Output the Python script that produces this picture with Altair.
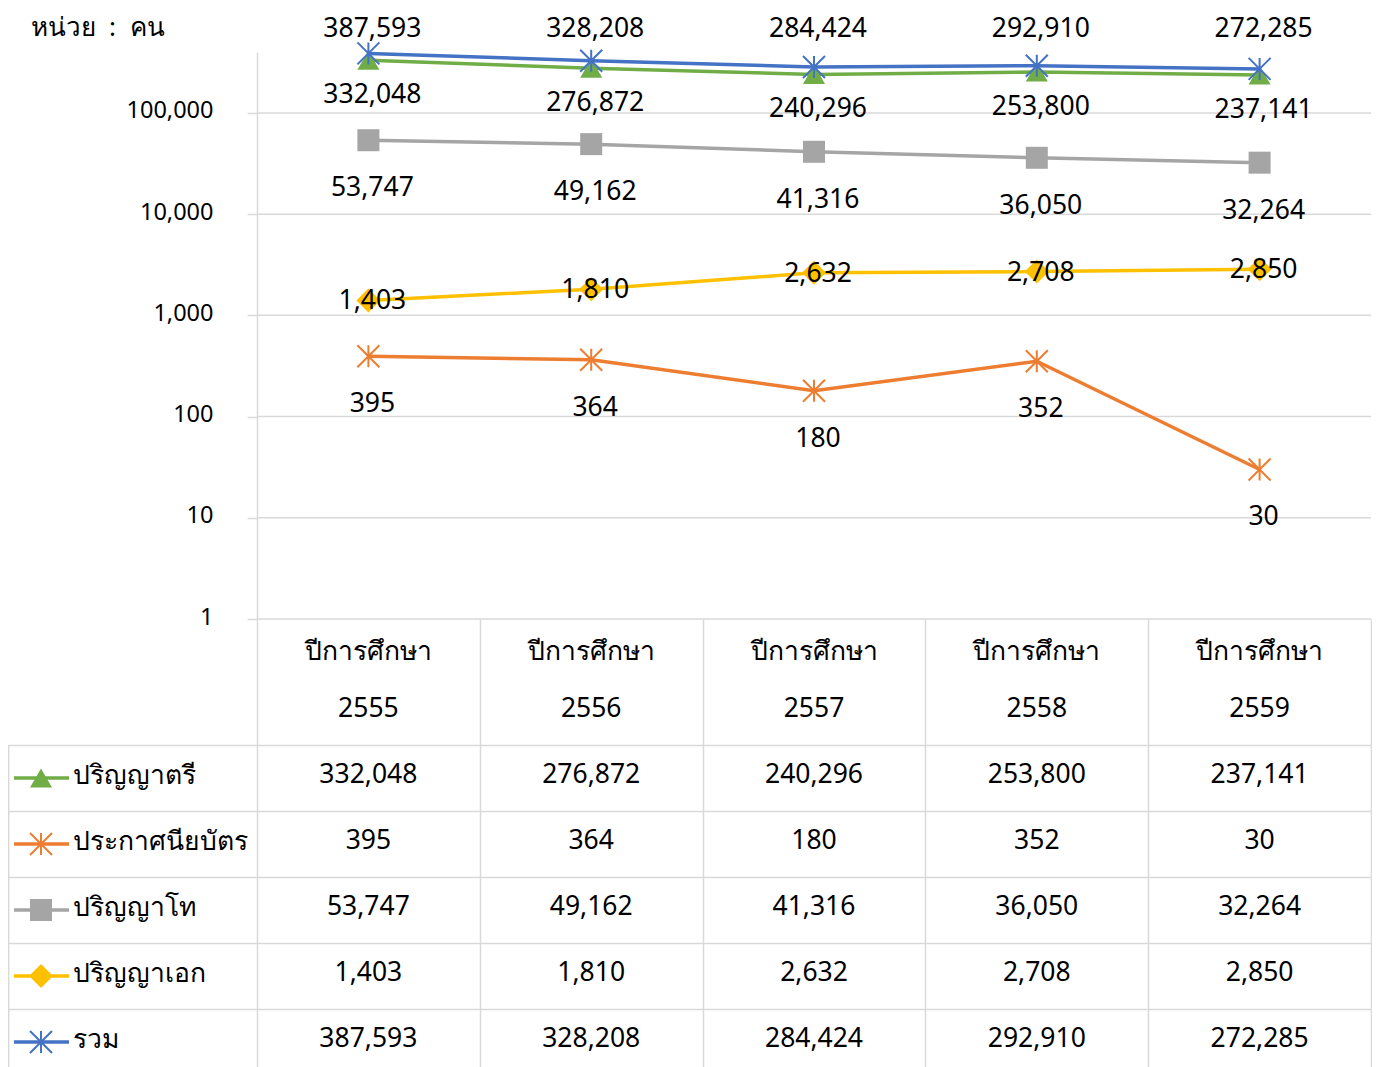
import altair as alt
import pandas as pd

# ---------------- data ----------------
years = [2555, 2556, 2557, 2558, 2559]
year_prefix = "ปีการศึกษา"
series_names = ["ปริญญาตรี", "ประกาศนียบัตร", "ปริญญาโท", "ปริญญาเอก", "รวม"]
bachelor = [332048, 276872, 240296, 253800, 237141]
certificate = [395, 364, 180, 352, 30]
master = [53747, 49162, 41316, 36050, 32264]
doctor = [1403, 1810, 2632, 2708, 2850]
total = [387593, 328208, 284424, 292910, 272285]
y_tick_values = [1, 10, 100, 1000, 10000, 100000]
unit_label = "หน่วย\u00a0\u00a0:\u00a0\u00a0คน"

series_values = [bachelor, certificate, master, doctor, total]

# ---------------- styles / layout ----------------
FONT = "Noto Sans"
COL_W = 222.8
LEG_W = 249
TOP_H = 567
Y_MAX = 400000
HEAD_H = 126
LINE_H = 57
ROW_H = 66
PLOT_W = round(5 * COL_W + LEG_W)
GRID = "#D9D9D9"
TXT = "#000000"
FS = 26.5
AXIS_FS = 23.5
ASTERISK = "M0,-1L0,1M-1,-1L1,1M-1,1L1,-1"

# dy: label offset from the marker; "top": label pinned above the plot area
styles = {
    "ปริญญาตรี": dict(color="#70AD47", shape="triangle-up", size=484, filled=True, sw=0, dy=35, top=False),
    "ประกาศนียบัตร": dict(color="#ED7D31", shape=ASTERISK, size=484, filled=False, sw=2, dy=48, top=False),
    "ปริญญาโท": dict(color="#A5A5A5", shape="square", size=484, filled=True, sw=0, dy=48, top=False),
    "ปริญญาเอก": dict(color="#FFC000", shape="diamond", size=576, filled=True, sw=0, dy=1, top=False),
    "รวม": dict(color="#4472C4", shape=ASTERISK, size=484, filled=False, sw=2, dy=-23, top=True),
}

rows = []
for name, vals in zip(series_names, series_values):
    for yr, v in zip(years, vals):
        rows.append({"series": name, "year": yr, "value": v})
df = pd.DataFrame(rows)

x_min = years[0] - 0.5 - LEG_W / COL_W
x_max = years[-1] + 0.5
col_edges = [yr - 0.5 for yr in years] + [years[-1] + 0.5]
x_scale = alt.Scale(domain=[x_min, x_max], nice=False, zero=False)

# ---------------- top: log line chart ----------------
y_axis = alt.Axis(
    values=y_tick_values, format=",", grid=False, offset=-LEG_W,
    tickSize=10, tickColor=GRID, tickWidth=1.5,
    domainColor=GRID, domainWidth=1.5,
    labelPadding=34, labelOffset=-2, labelFont=FONT, labelFontSize=AXIS_FS, labelColor=TXT,
    title=unit_label, titleAngle=0, titleX=-227, titleY=-25,
    titleAlign="left", titleBaseline="middle", titleFont=FONT,
    titleFontSize=26, titleFontWeight="normal", titleColor=TXT,
)
y_scale = alt.Scale(type="log", domain=[1, Y_MAX], nice=False)
y_enc = alt.Y("value:Q", scale=y_scale, axis=y_axis)


def xq(field):
    return alt.X(field, scale=x_scale, axis=None)


grid_df = pd.DataFrame({"value": y_tick_values})
grid_df["xa"] = col_edges[0]
grid_df["xb"] = col_edges[-1]
layers = [
    alt.Chart(grid_df).mark_rule(color=GRID, strokeWidth=1.5).encode(
        x=xq("xa:Q"), x2="xb:Q", y=y_enc
    )
]
for name in series_names:
    st = styles[name]
    base = alt.Chart(df).transform_filter(alt.datum.series == name)
    layers.append(base.mark_line(color=st["color"], strokeWidth=3.5).encode(x=xq("year:Q"), y=y_enc))
    layers.append(
        base.mark_point(shape=st["shape"], size=st["size"], filled=st["filled"],
                        color=st["color"], strokeWidth=st["sw"], opacity=1)
        .encode(x=xq("year:Q"), y=y_enc)
    )
for name in series_names:
    st = styles[name]
    base = alt.Chart(df).transform_filter(alt.datum.series == name)
    y_lab = alt.datum(Y_MAX, type="quantitative") if st["top"] else y_enc
    layers.append(
        base.mark_text(font=FONT, fontSize=FS, color=TXT, dy=st["dy"], dx=4, baseline="middle")
        .encode(x=xq("year:Q"), y=y_lab, text=alt.Text("value:Q", format=","))
    )
top = alt.layer(*layers).properties(width=PLOT_W, height=TOP_H)

# ---------------- header row ----------------
head_df = pd.DataFrame({"year": years, "label": [f"{year_prefix}\n{yr}" for yr in years]})
header = alt.Chart(head_df).mark_text(
    font=FONT, fontSize=FS, lineBreak="\n", lineHeight=LINE_H, baseline="middle", color=TXT
).encode(
    x=alt.X("year:Q", scale=x_scale,
            axis=alt.Axis(values=col_edges, grid=True, gridColor=GRID, gridWidth=1.5,
                          labels=False, ticks=False, domain=False, title=None)),
    y=alt.value(HEAD_H / 2 - LINE_H / 2 - 2),
    text="label:N",
).properties(width=PLOT_W, height=HEAD_H)

# ---------------- data table rows ----------------
row_x_axis = alt.Axis(values=[x_min] + col_edges, grid=True, gridColor=GRID, gridWidth=1.5,
                      labels=False, ticks=False, domain=False, title=None)


def xr(field):
    return alt.X(field, scale=x_scale, axis=row_x_axis)


y_rows = alt.Y(
    "series:N",
    scale=alt.Scale(domain=series_names, paddingInner=0, paddingOuter=0),
    axis=alt.Axis(tickBand="extent", grid=True, gridColor=GRID, gridWidth=1.5,
                  ticks=False, tickSize=0, labelAlign="left", labelPadding=-64, labelOffset=-3,
                  labelFont=FONT, labelFontSize=FS, labelColor=TXT, labelLimit=0,
                  domain=True, domainColor=GRID, domainWidth=1.5, title=None),
)

SW_LEFT, SW_RIGHT, SW_MID = 6, 61, 33  # legend key offsets inside the legend column (px)
leg_df = pd.DataFrame({"series": series_names})
leg_df["x1"] = x_min + SW_LEFT / COL_W
leg_df["x2"] = x_min + SW_RIGHT / COL_W
leg_df["xm"] = x_min + SW_MID / COL_W

row_layers = [
    alt.Chart(df).mark_text(font=FONT, fontSize=FS, color=TXT, baseline="middle", dy=-3).encode(
        x=xr("year:Q"), y=y_rows, text=alt.Text("value:Q", format=",")
    )
]
for name in series_names:
    st = styles[name]
    b = alt.Chart(leg_df).transform_filter(alt.datum.series == name)
    row_layers.append(b.mark_rule(color=st["color"], strokeWidth=3.5).encode(
        x=xr("x1:Q"), x2="x2:Q", y=y_rows))
    row_layers.append(
        b.mark_point(shape=st["shape"], size=st["size"], filled=st["filled"],
                     color=st["color"], strokeWidth=st["sw"], opacity=1)
        .encode(x=xr("xm:Q"), y=y_rows)
    )
table = alt.layer(*row_layers).properties(width=PLOT_W, height=ROW_H * len(series_names))

chart = alt.vconcat(top, header, table, spacing=0, bounds="flush").properties(
    padding={"left": 0, "top": 6, "right": 0, "bottom": 0}
).configure_view(stroke=None)

chart.save("out.html", embed_options={"renderer": "svg", "actions": False})
